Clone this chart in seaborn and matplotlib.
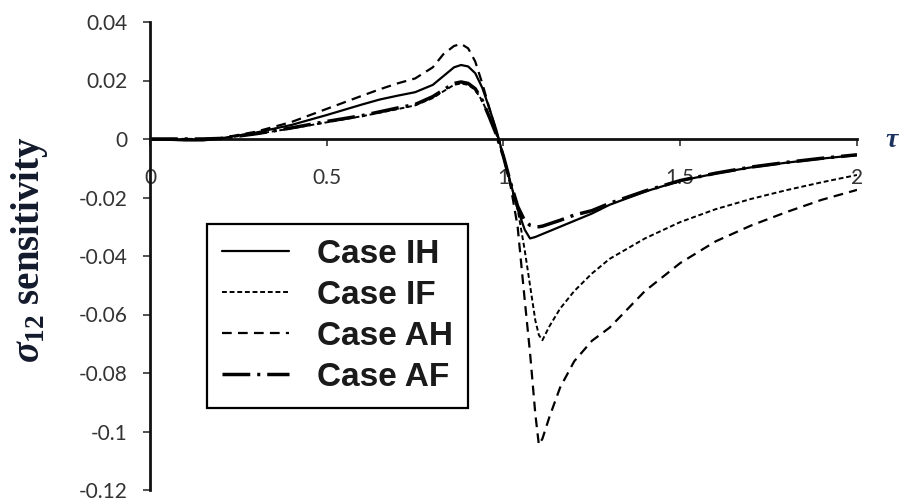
import matplotlib
matplotlib.use("Agg")
import matplotlib.pyplot as plt
import seaborn as sns
import pandas as pd
from matplotlib.ticker import FixedLocator, FixedFormatter

# dimensionless time
tau = [0, 0.1, 0.15, 0.2, 0.3, 0.4, 0.5, 0.6, 0.65, 0.7, 0.75, 0.8, 0.83, 0.86,
       0.88, 0.9, 0.92, 0.94, 0.96, 0.98, 1.0, 1.02, 1.04, 1.06, 1.075, 1.09, 1.1,
       1.11, 1.13, 1.16, 1.2, 1.25, 1.3, 1.4, 1.5, 1.6, 1.7, 1.8, 1.9, 2.0]

# sigma_12 sensitivity for each case
case_ih = [0, -0.0005, -0.0005, 0.0002, 0.0022, 0.0048, 0.0082, 0.0118, 0.0135, 0.0148,
           0.016, 0.0185, 0.0215, 0.0245, 0.0253, 0.0248, 0.0225, 0.0175, 0.0105, 0.003,
           -0.006, -0.015, -0.024, -0.031, -0.034, -0.0335, -0.033, -0.0325, -0.0315, -0.030,
           -0.028, -0.0255, -0.0225, -0.018, -0.0143, -0.0118, -0.0097, -0.0081, -0.0067, -0.0055]
case_if = [0, 0, 0, 0.0002, 0.0017, 0.0036, 0.0057, 0.0078, 0.009, 0.0102,
           0.0115, 0.014, 0.0163, 0.0185, 0.019, 0.0185, 0.0168, 0.013, 0.0075, 0.0015,
           -0.006, -0.015, -0.024, -0.038, -0.050, -0.062, -0.067, -0.0688, -0.064, -0.058,
           -0.052, -0.046, -0.041, -0.034, -0.0284, -0.024, -0.0205, -0.0175, -0.0148, -0.0123]
case_ah = [0, 0, 0, 0.0003, 0.0025, 0.0058, 0.0103, 0.0148, 0.017, 0.019,
           0.0207, 0.0245, 0.029, 0.0318, 0.0325, 0.031, 0.0265, 0.019, 0.0105, 0.0025,
           -0.006, -0.016, -0.030, -0.055, -0.073, -0.094, -0.1045, -0.1025, -0.095, -0.085,
           -0.076, -0.069, -0.0645, -0.052, -0.0424, -0.035, -0.0296, -0.025, -0.0208, -0.0174]
case_af = [0, 0, 0, 0.0002, 0.0018, 0.0038, 0.006, 0.008, 0.0093, 0.0106,
           0.0118, 0.0145, 0.0168, 0.019, 0.0195, 0.019, 0.0172, 0.0132, 0.0075, 0.0015,
           -0.006, -0.015, -0.023, -0.028, -0.0295, -0.030, -0.030, -0.0298, -0.029, -0.0278,
           -0.026, -0.0245, -0.022, -0.0178, -0.0142, -0.0117, -0.0096, -0.008, -0.0066, -0.0054]

case_labels = ["Case IH", "Case IF", "Case AH", "Case AF"]

x_ticks = [0, 0.5, 1, 1.5, 2]
x_tick_labels = ["0", "0.5", "1", "1.5", "2"]
y_ticks = [0.04, 0.02, 0, -0.02, -0.04, -0.06, -0.08, -0.1, -0.12]
y_tick_labels = ["0.04", "0.02", "0", "-0.02", "-0.04", "-0.06", "-0.08", "-0.1", "-0.12"]

sns.set_theme(style="white")
plt.rcParams["lines.scale_dashes"] = False
plt.rcParams["mathtext.fontset"] = "custom"
plt.rcParams["mathtext.rm"] = "Liberation Serif:bold"
plt.rcParams["mathtext.it"] = "Liberation Serif:italic:bold"
plt.rcParams["mathtext.bf"] = "Liberation Serif:bold"

fig = plt.figure(figsize=(9.04, 5.03), dpi=100)
W, H = 904, 503
ax = fig.add_axes([150 / W, 1 - 490 / H, (857 - 150) / W, (490 - 22) / H])

line_styles = [
    dict(linestyle="-", linewidth=1.6),
    dict(linestyle=(0, (3.5, 2.0)), linewidth=1.4),
    dict(linestyle=(0, (7, 4.5)), linewidth=1.6),
    dict(linestyle=(0, (20, 5, 2.2, 5)), linewidth=2.5),
]

df = pd.DataFrame({"tau": tau, "Case IH": case_ih, "Case IF": case_if,
                   "Case AH": case_ah, "Case AF": case_af})
for lab, st in zip(case_labels, line_styles):
    sns.lineplot(data=df, x="tau", y=lab, ax=ax, color="black", label=lab,
                 estimator=None, **st)

ax.set_xlim(0, 2)
ax.set_ylim(-0.12, 0.04)
ax.set_xlabel("")
ax.set_ylabel("")

for s in ["top", "right"]:
    ax.spines[s].set_visible(False)
ax.spines["bottom"].set_position(("data", 0))
ax.spines["bottom"].set_color("#111111")
ax.spines["bottom"].set_linewidth(2.0)
ax.spines["bottom"].set_zorder(1)
ax.spines["left"].set_color("#111111")
ax.spines["left"].set_linewidth(2.0)

ax.xaxis.set_major_locator(FixedLocator(x_ticks))
ax.xaxis.set_major_formatter(FixedFormatter(x_tick_labels))
ax.yaxis.set_major_locator(FixedLocator(y_ticks))
ax.yaxis.set_major_formatter(FixedFormatter(y_tick_labels))

ax.tick_params(axis="x", direction="out", length=5, width=1.2, color="#333333",
               pad=16, labelsize=15, labelcolor="#333333", bottom=True)
ax.tick_params(axis="y", direction="out", length=5, width=1.2, color="#333333",
               pad=11, labelsize=15, labelcolor="#333333", left=True)
for t in ax.get_xticklabels() + ax.get_yticklabels():
    t.set_fontfamily("Lato")

leg = ax.legend(loc="upper left", bbox_to_anchor=(207 / W, 1 - 224 / H),
                bbox_transform=fig.transFigure, frameon=True, fancybox=False,
                framealpha=1, edgecolor="black", borderpad=0.45,
                handlelength=2.0, handletextpad=0.85, labelspacing=0.3,
                borderaxespad=0, prop=dict(family="Liberation Sans", weight="bold", size=24))
leg.get_frame().set_linewidth(1.6)
for t in leg.get_texts():
    t.set_color("#1a1a1a")

fig.text(30 / W, 1 - 250 / H, r"$\sigma_{12}$ sensitivity", rotation=90,
         ha="center", va="center", fontsize=28, fontfamily="Liberation Serif",
         fontweight="bold", color="#121a2c")
ax.text(2.08, 0, r"$\tau$", ha="left", va="center", fontsize=20,
        color="#1c3360", clip_on=False)

fig.savefig("out.png", dpi=100)
